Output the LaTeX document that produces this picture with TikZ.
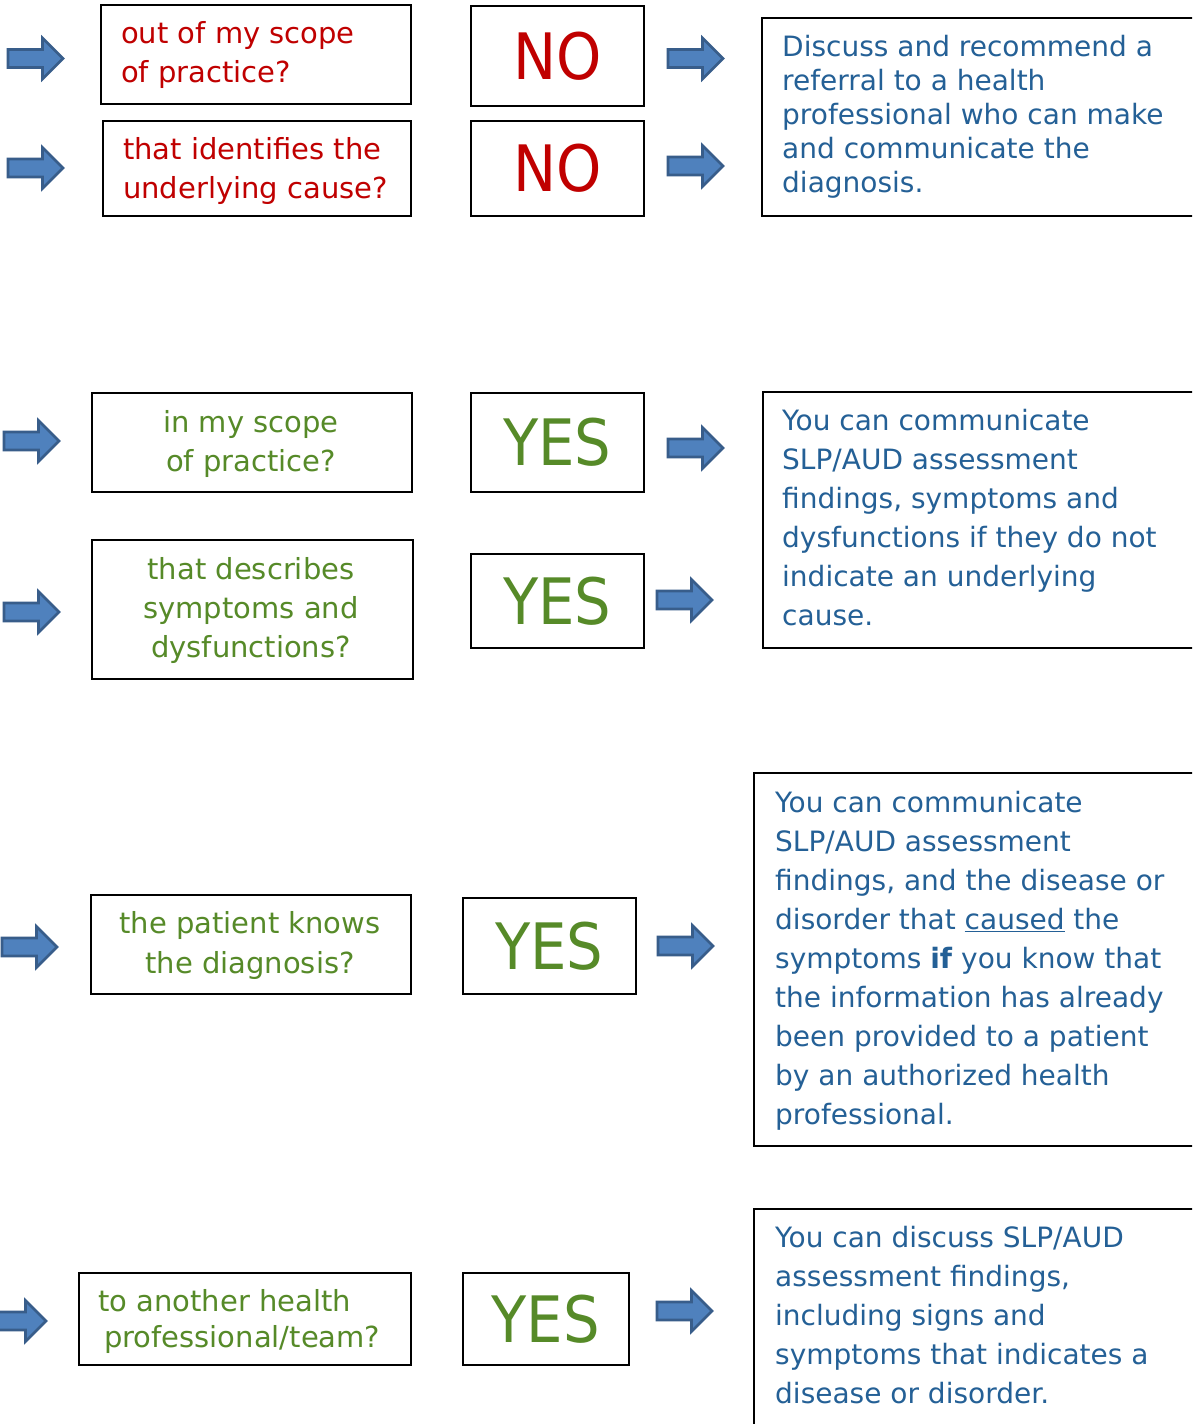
\documentclass[tikz,border=0pt]{standalone}
\usepackage{fontspec}
\setmainfont{DejaVu Sans}
\newfontfamily\yesfont{DejaVu Sans Condensed}
\definecolor{qred}{RGB}{192,0,0}
\definecolor{qgreen}{RGB}{86,138,40}
\definecolor{tblue}{RGB}{36,96,150}
\definecolor{afill}{RGB}{79,129,189}
\definecolor{aline}{RGB}{56,93,138}
\begin{document}
\begin{tikzpicture}[x=1pt,y=-1pt,
  box/.style={draw=black, line width=1.8pt, inner sep=0pt, anchor=north west},
  qtext/.style={font=\fontsize{29pt}{39pt}\selectfont, inner sep=0pt},
  rtext/.style={font=\fontsize{28pt}{39pt}\selectfont, inner sep=0pt, text=tblue, align=left, anchor=base west},
  yn/.style={font=\yesfont\fontsize{64pt}{64pt}\selectfont, inner sep=0pt},
  barrow/.style={fill=afill, draw=aline, line width=2.6pt, line join=miter}]
\useasboundingbox (0,0) rectangle (1192,1424);
\clip (0,0) rectangle (1192,1424);
\fill[white] (0,0) rectangle (1192,1424);

% arrows: (tail x, centre y)
\foreach \ax/\ay in {8/58.5, 8/168, 668/58.5, 668/166, 4/441, 668/448, 4/612, 657/600, 2/947, 658/946, -9/1321, 657/1311}{
  \draw[barrow, shift={(\ax,\ay)}] (0,-9) -- (34.5,-9) -- (34.5,-20.5) -- (55,0) -- (34.5,20.5) -- (34.5,9) -- (0,9) -- cycle;
}

% rows 1-2 (red)
\node[box, minimum width=310pt, minimum height=99pt] (q1) at (100,4) {};
\node[box, minimum width=308pt, minimum height=95pt] (q2) at (102,120) {};
\node[box, minimum width=173pt, minimum height=100pt] (no1) at (470,5) {};
\node[box, minimum width=173pt, minimum height=95pt] (no2) at (470,120) {};
\node[box, minimum width=449pt, minimum height=198pt] (r1) at (761,17) {};
\node[qtext, text=qred, align=left, anchor=base west] (q1t) at (121,82) {out of my scope\\of practice?};
\node[qtext, text=qred, align=left, anchor=base west] (q2t) at (123,198) {that identifies the\\underlying cause?};
\node[yn, text=qred] (no1t) at (no1.center) {NO};
\node[yn, text=qred] (no2t) at (no2.center) {NO};
\node[rtext, font=\fontsize{28pt}{34pt}\selectfont] (r1t) at (782,192) {Discuss and recommend a\\referral to a health\\professional who can make\\and communicate the\\diagnosis.};

% rows 3-4
\node[box, minimum width=320pt, minimum height=99pt] (q3) at (91,392) {};
\node[box, minimum width=173pt, minimum height=99pt] (yes1) at (470,392) {};
\node[box, minimum width=448pt, minimum height=256pt] (r2) at (762,391) {};
\node[box, minimum width=321pt, minimum height=139pt] (q4) at (91,539) {};
\node[box, minimum width=173pt, minimum height=94pt] (yes2) at (470,553) {};
\node[qtext, text=qgreen, align=center, anchor=base] (q3t) at (251,471) {in my scope\\of practice?};
\node[qtext, text=qgreen, align=center, anchor=base] (q4t) at (251,657) {that describes\\symptoms and\\dysfunctions?};
\node[yn, text=qgreen] (yes1t) at (yes1.center) {YES};
\node[yn, text=qgreen] (yes2t) at (yes2.center) {YES};
\node[rtext] (r2t) at (782,625) {You can communicate\\SLP/AUD assessment\\findings, symptoms and\\dysfunctions if they do not\\indicate an underlying\\cause.};

% row 5
\node[box, minimum width=320pt, minimum height=99pt] (q5) at (90,894) {};
\node[box, minimum width=173pt, minimum height=96pt] (yes3) at (462,897) {};
\node[box, minimum width=457pt, minimum height=373pt] (r3) at (753,772) {};
\node[qtext, text=qgreen, align=center, anchor=base, font=\fontsize{29pt}{40pt}\selectfont] (q5t) at (250,973) {the patient knows\\the diagnosis?};
\node[yn, text=qgreen] (yes3t) at (yes3.center) {YES};
\node[rtext] (r3t) at (775,1124) {You can communicate\\SLP/AUD assessment\\findings, and the disease or\\disorder that \underline{caused} the\\symptoms \textbf{if} you know that\\the information has already\\been provided to a patient\\by an authorized health\\professional.};

% row 6
\node[box, minimum width=332pt, minimum height=92pt] (q6) at (78,1272) {};
\node[box, minimum width=166pt, minimum height=92pt] (yes4) at (462,1272) {};
\node[box, minimum width=457pt, minimum height=240pt] (r4) at (753,1208) {};
\node[qtext, text=qgreen, align=left, anchor=base west, font=\fontsize{29pt}{36pt}\selectfont] (q6t) at (98,1347) {to another health\\\hspace*{6pt}professional/team?};
\node[yn, text=qgreen] (yes4t) at (yes4.center) {YES};
\node[rtext] (r4t) at (775,1403) {You can discuss SLP/AUD\\assessment findings,\\including signs and\\symptoms that indicates a\\disease or disorder.};
\end{tikzpicture}
\end{document}
